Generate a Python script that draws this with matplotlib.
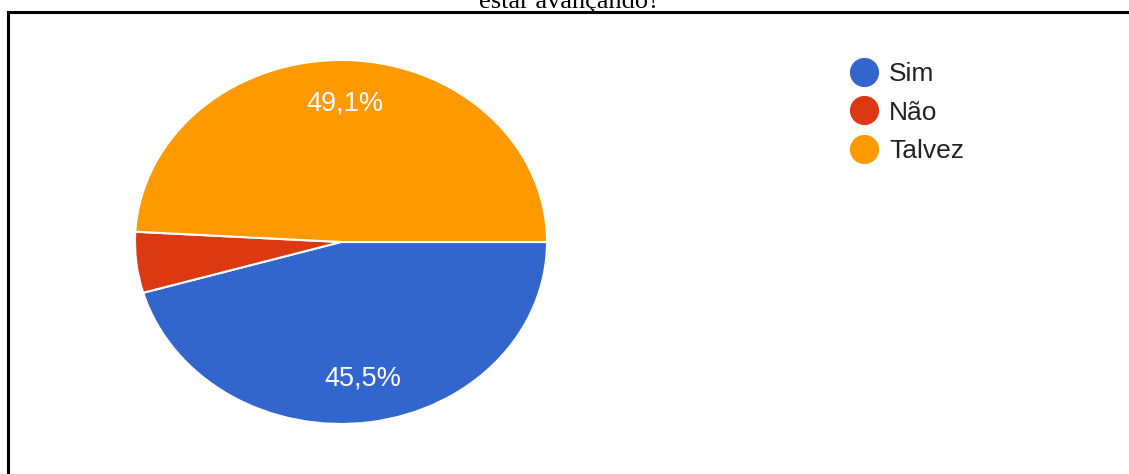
import matplotlib
matplotlib.use("Agg")
import matplotlib.pyplot as plt
from matplotlib.lines import Line2D
import numpy as np

categories = ["Sim", "Não", "Talvez"]
values = [45.5, 5.4, 49.1]
colors = ["#3366CC", "#DC3912", "#FF9900"]
title = "estar avançando?"

W, H = 1129, 474
fig = plt.figure(figsize=(W / 100, H / 100), dpi=100)
plt.rcParams['font.family'] = ['Liberation Sans', 'DejaVu Sans']

# frame lines (left and top)
fig.add_artist(Line2D([8 / W, 8 / W], [0, 1 - 12 / H], color="black", lw=2.2, transform=fig.transFigure))
fig.add_artist(Line2D([8 / W, 1], [1 - 12 / H, 1 - 12 / H], color="black", lw=2.2, transform=fig.transFigure))

fig.text(569 / W, 1 - 8 / H, title, ha="center", va="baseline",
         fontsize=19, family=["Liberation Serif", "DejaVu Serif"])

cx, cy, rx, ry = 341, 242, 206, 182
ax = fig.add_axes([(cx - rx) / W, 1 - (cy + ry) / H, 2 * rx / W, 2 * ry / H])
wedges, _ = ax.pie(values, colors=colors, startangle=0, counterclock=False,
                   wedgeprops=dict(edgecolor="white", linewidth=1.5))
ax.set_aspect("auto")
ax.set_xlim(-1, 1)
ax.set_ylim(-1, 1)

start = 0.0
total = sum(values)
for v in values:
    ang = start - v / total * 360 / 2
    start -= v / total * 360
    if v / total >= 0.1:
        r = 0.76
        ax.text(r * np.cos(np.radians(ang)), r * np.sin(np.radians(ang)),
                f"{v:.1f}%".replace(".", ","), ha="center", va="center",
                color="white", fontsize=19.5)

handles = [Line2D([], [], marker="o", linestyle="none", markersize=20,
                  markerfacecolor=c, markeredgecolor=c) for c in colors]
leg = fig.legend(handles, categories, loc="upper left",
                 bbox_to_anchor=(851 / W, 1 - 62 / H), frameon=False,
                 fontsize=19, handlelength=0.95, handletextpad=0.5,
                 labelspacing=0.55, borderpad=0, borderaxespad=0)
for t in leg.get_texts():
    t.set_color("#222222")

fig.savefig("out.png", dpi=100)
